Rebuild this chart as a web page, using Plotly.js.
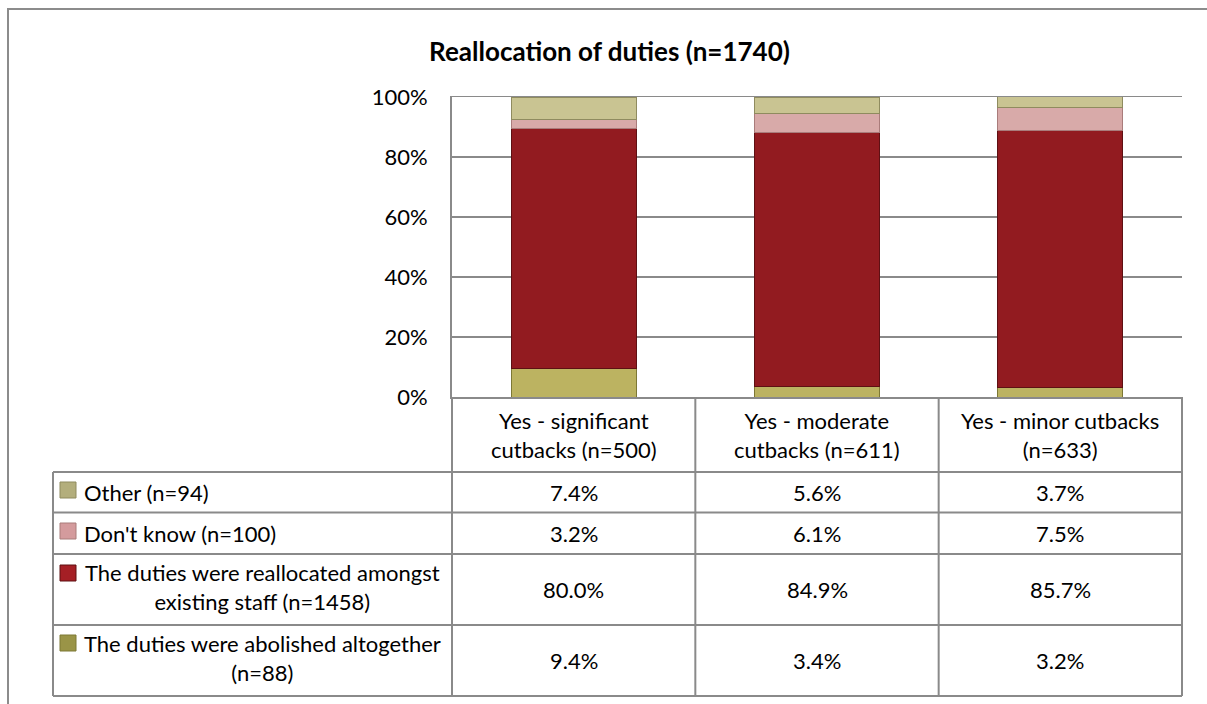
<!DOCTYPE html>
<html><head><meta charset="utf-8">
<script src="https://cdn.plot.ly/plotly-3.0.1.min.js"></script>
<style>html,body{margin:0;padding:0;background:#fff;} #chart{width:1207px;height:704px;}</style>
</head><body><div id="chart"></div>
<script>
// ---- data ----
const categories = ["Yes - significant<br>cutbacks (n=500)", "Yes - moderate<br>cutbacks (n=611)", "Yes - minor cutbacks<br>(n=633)"];
const abolished = [9.4, 3.4, 3.2];
const reallocated = [80.0, 84.9, 85.7];
const dontKnow = [3.2, 6.1, 7.5];
const other = [7.4, 5.6, 3.7];
const seriesNames = ["The duties were abolished altogether (n=88)", "The duties were reallocated amongst existing staff (n=1458)", "Don't know (n=100)", "Other (n=94)"];
const rowLabels = ["The duties were abolished altogether<br>(n=88)", "The duties were reallocated amongst<br>existing staff (n=1458)", "Don't know (n=100)", "Other (n=94)"];
const yTickVals = [0, 20, 40, 60, 80, 100];
const yTickText = ["0%", "20%", "40%", "60%", "80%", "100%"];
const titleText = "Reallocation of duties (n=1740)";

// ---- styling ----
const FONT = "Lato, 'Open Sans', sans-serif";
const FS = 22;
const fills = ["#bcb361", "#921b20", "#d8aaa9", "#c9c492"];
const edges = ["#7d7835", "#5e1013", "#a97c7b", "#8f8b5f"];
const keyFills = ["#9a9447", "#a51f25", "#d49b9d", "#b3ae7c"];
const GRID = "#8a8a8a";

const W = 1207, H = 704, L = 452, R = 1182, T = 97, B = 397;
const xp = px => (px - L) / (R - L);
const yp = py => (B - py) / (B - T);

const allSeries = [abolished, reallocated, dontKnow, other];
const traces = allSeries.map((vals, k) => ({
  type: "bar",
  name: seriesNames[k],
  x: categories,
  y: vals,
  width: 0.515,
  marker: {color: fills[k], line: {color: edges[k], width: 1}},
  hoverinfo: "name+y",
  showlegend: false
}));

// table rows, from bottom (abolished) to top (other) -> pixel bands
const rowBands = [[625, 696], [554, 625], [512.5, 554], [472, 512.5]];
const keyTops = [635, 565, 523, 482];
const headerBand = [397, 472];

const shapes = [];
const line = (x0, y0, x1, y1, w) => shapes.push({type: "line", xref: "paper", yref: "paper",
  x0: xp(x0), y0: yp(y0), x1: xp(x1), y1: yp(y1), line: {color: GRID, width: w || 2}});
// outer chart border (extends past the frame on right/bottom)
shapes.push({type: "rect", xref: "paper", yref: "paper", x0: xp(8), y0: yp(9), x1: xp(1240), y1: yp(740),
  line: {color: "#8c8c8c", width: 2}, fillcolor: "rgba(0,0,0,0)"});
// table horizontal lines
[472, 512.5, 554, 625, 696].forEach(y => line(53, y, R, y));
// table vertical lines
line(53, 472, 53, 696);
line(L, 397, L, 696);
line(R, 397, R, 696);
[0.5, 1.5].forEach(xv => shapes.push({type: "line", xref: "x", yref: "paper", x0: xv, x1: xv,
  y0: yp(397), y1: yp(696), line: {color: GRID, width: 2}}));
// legend keys
keyTops.forEach((t, k) => shapes.push({type: "rect", xref: "paper", yref: "paper",
  x0: xp(60), x1: xp(76), y0: yp(t), y1: yp(t + 16), fillcolor: keyFills[k], line: {color: edges[k], width: 1}}));

const annotations = [];
const txtFont = {family: FONT, size: FS, color: "#000"};
categories.forEach(c => annotations.push({xref: "x", yref: "paper", x: c, y: yp((headerBand[0] + headerBand[1]) / 2),
  text: c, showarrow: false, xanchor: "center", yanchor: "middle", align: "center", font: txtFont}));
allSeries.forEach((vals, k) => {
  const band = rowBands[k];
  const yc = yp((band[0] + band[1]) / 2);
  vals.forEach((v, i) => annotations.push({xref: "x", yref: "paper", x: categories[i], y: yc,
    text: v.toFixed(1) + "%", showarrow: false, xanchor: "center", yanchor: "middle", font: txtFont}));
  const twoLine = rowLabels[k].indexOf("<br>") >= 0;
  annotations.push({xref: "paper", yref: "paper", x: twoLine ? xp(262) : xp(82), y: twoLine ? yp((band[0] + band[1]) / 2 - 3) : yc,
    text: rowLabels[k], showarrow: false, xanchor: twoLine ? "center" : "left", yanchor: "middle",
    align: "center", font: txtFont});
});

const layout = {
  width: W, height: H,
  margin: {l: L, r: W - R, t: T, b: H - B, pad: 0},
  paper_bgcolor: "#fff", plot_bgcolor: "#fff",
  barmode: "stack",
  title: {text: "<b>" + titleText + "</b>", x: 609.5 / W, xref: "container", xanchor: "center",
    y: 1 - 52 / H, yref: "container", yanchor: "middle", font: {family: FONT, size: 26, color: "#000"}},
  xaxis: {type: "category", range: [-0.5, 2.5], showticklabels: false, ticks: "", showgrid: false,
    showline: true, mirror: true, linecolor: GRID, linewidth: 1.5, zeroline: false, fixedrange: true},
  yaxis: {range: [0, 100], tickvals: yTickVals, ticktext: yTickText, ticks: "", ticklabelstandoff: 18,
    showgrid: true, gridcolor: GRID, gridwidth: 1.3, showline: true, linecolor: GRID, linewidth: 2,
    zeroline: false, tickfont: {family: FONT, size: FS, color: "#000"}, fixedrange: true},
  shapes: shapes,
  annotations: annotations,
  hovermode: "closest"
};

Plotly.newPlot("chart", traces, layout, {displayModeBar: false, staticPlot: true});
</script>
</body></html>
